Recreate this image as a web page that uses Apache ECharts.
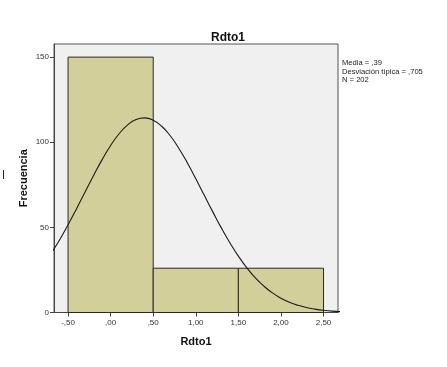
<!DOCTYPE html>
<html>
<head>
<meta charset="utf-8">
<script src="https://cdn.jsdelivr.net/npm/echarts@6/dist/echarts.min.js"></script>
<style>html,body{margin:0;padding:0;background:#fff;}#c{width:447px;height:367px;}</style>
</head>
<body>
<div id="c"></div>
<script>
// Histogram bins: [start, end, frequency]
var binStarts = [-0.5, 0.5, 1.5];
var binEnds = [0.5, 1.5, 2.5];
var frequencies = [150, 26, 26];
// Normal curve (x, frequency)
var curveX = [-0.7,-0.6,-0.5,-0.4,-0.3,-0.2,-0.1,0.0,0.1,0.2,0.3,0.4,0.5,0.6,0.7,0.8,0.9,1.0,1.1,1.2,1.3,1.4,1.5,1.6,1.7,1.8,1.9,2.0,2.1,2.2,2.3,2.4,2.5,2.6,2.7];
var curveY = [34.6,42.6,51.5,61.0,70.8,80.5,89.8,98.1,105.0,110.2,113.4,114.3,112.9,109.4,103.8,96.5,88.0,78.6,68.8,59.1,49.7,41.0,33.1,26.2,20.3,15.5,11.5,8.4,6.0,4.2,2.9,2.0,1.3,0.8,0.5];
var xTickValues = [-0.5, 0, 0.5, 1, 1.5, 2, 2.5];
var xTickLabels = ['-,50', ',00', ',50', '1,00', '1,50', '2,00', '2,50'];
var yTickValues = [0, 50, 100, 150];
var yTickLabels = ['0', '50', '100', '150'];
var titleText = 'Rdto1';
var xName = 'Rdto1';
var yName = 'Frecuencia';
var statsLines = ['Media = ,39', 'Desviación típica = ,705', 'N = 202'];

var chart = echarts.init(document.getElementById('c'), null, {renderer: 'canvas'});
var font = 'Liberation Sans, Arial, sans-serif';
var barData = binStarts.map(function (s, i) { return [s, binEnds[i], frequencies[i]]; });
var lineData = curveX.map(function (x, i) { return [x, curveY[i]]; });

chart.setOption({
  animation: false,
  backgroundColor: '#ffffff',
  title: {
    text: titleText, left: 228, top: 32, textAlign: 'center', padding: 0,
    textStyle: {fontFamily: font, fontSize: 12, fontWeight: 'bold', color: '#111'}
  },
  grid: {
    left: 54, top: 44, width: 284, height: 268.5,
    show: true, backgroundColor: '#f0f0f0', borderColor: '#555', borderWidth: 1
  },
  xAxis: {
    type: 'value', min: -0.665, max: 2.67,
    name: xName, nameLocation: 'middle', nameGap: 24,
    nameTextStyle: {fontFamily: font, fontSize: 11, fontWeight: 'bold', color: '#111'},
    axisLine: {show: true, onZero: false, lineStyle: {color: '#444', width: 1}},
    axisTick: {show: true, length: 4, customValues: xTickValues, lineStyle: {color: '#444'}},
    axisLabel: {
      customValues: xTickValues, fontFamily: font, fontSize: 8, color: '#333', margin: 6,
      formatter: function (v) { var i = xTickValues.indexOf(v); return i >= 0 ? xTickLabels[i] : ''; }
    },
    splitLine: {show: false}
  },
  yAxis: {
    type: 'value', min: 0, max: 157.7,
    name: yName, nameLocation: 'middle', nameGap: 25, nameRotate: 90, nameMoveOverlap: false,
    nameTextStyle: {fontFamily: font, fontSize: 11, fontWeight: 'bold', color: '#111'},
    axisLine: {show: true, onZero: false, lineStyle: {color: '#444', width: 1}},
    axisTick: {show: true, length: 4, customValues: yTickValues, lineStyle: {color: '#444'}},
    axisLabel: {
      customValues: yTickValues, fontFamily: font, fontSize: 8, color: '#333', margin: 5,
      formatter: function (v) { var i = yTickValues.indexOf(v); return i >= 0 ? yTickLabels[i] : ''; }
    },
    splitLine: {show: false}
  },
  series: [
    {
      type: 'custom',
      data: barData,
      encode: {x: [0, 1], y: 2},
      renderItem: function (params, api) {
        var p0 = api.coord([api.value(0), api.value(2)]);
        var p1 = api.coord([api.value(1), 0]);
        return {
          type: 'rect',
          shape: {x: p0[0], y: p0[1], width: p1[0] - p0[0], height: p1[1] - p0[1]},
          style: {fill: '#d3cf9b', stroke: '#2a2a2a', lineWidth: 1}
        };
      },
      z: 2
    },
    {
      type: 'line',
      data: lineData,
      smooth: true,
      showSymbol: false,
      clip: true,
      lineStyle: {color: '#1a1a1a', width: 1.1},
      z: 3
    }
  ],
  graphic: [
    {
      type: 'text', left: 342, top: 59,
      style: {text: statsLines.join('\n'), font: '7.6px ' + font, fill: '#222', lineHeight: 8.3}
    },
    {
      type: 'line', shape: {x1: 3.5, y1: 170, x2: 3.5, y2: 179},
      style: {stroke: '#222', lineWidth: 1}
    }
  ]
});
</script>
</body>
</html>
